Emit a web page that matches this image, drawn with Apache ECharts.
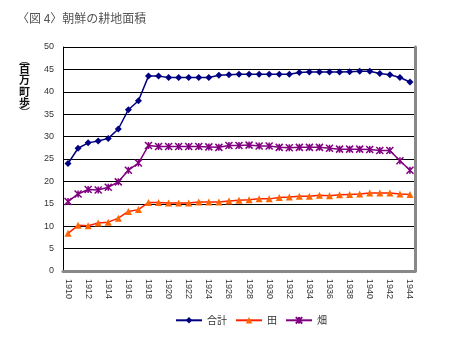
<!DOCTYPE html>
<html><head><meta charset="utf-8">
<script src="https://cdn.jsdelivr.net/npm/echarts@6/dist/echarts.min.js"></script>
<style>html,body{margin:0;padding:0;background:#fff}#c{width:460px;height:345px}</style>
</head><body><div id="c"></div>
<script>
const years = ['1910','1911','1912','1913','1914','1915','1916','1917','1918','1919','1920','1921','1922','1923','1924','1925','1926','1927','1928','1929','1930','1931','1932','1933','1934','1935','1936','1937','1938','1939','1940','1941','1942','1943','1944'];
const total = [24.0,27.4,28.6,29.0,29.6,31.7,36.0,38.0,43.5,43.5,43.2,43.2,43.2,43.2,43.2,43.7,43.8,43.9,43.9,43.9,43.9,43.9,43.9,44.3,44.4,44.4,44.4,44.4,44.5,44.6,44.6,44.1,43.8,43.2,42.2];
const paddy = [8.4,10.2,10.1,10.7,10.9,11.8,13.3,13.7,15.3,15.3,15.2,15.2,15.2,15.4,15.4,15.4,15.6,15.8,15.9,16.1,16.1,16.4,16.5,16.7,16.7,16.9,16.8,17.0,17.1,17.2,17.4,17.4,17.4,17.2,17.1];
const field = [15.5,17.2,18.2,18.1,18.7,19.9,22.5,24.1,28.0,27.8,27.8,27.8,27.8,27.8,27.7,27.6,28.0,28.0,28.1,27.9,27.9,27.6,27.5,27.6,27.6,27.6,27.4,27.2,27.2,27.2,27.1,26.9,26.9,24.6,22.5];
const seriesNames = ['合計','田','畑'];
const titleText = '〈図 4〉朝鮮の耕地面積';
const yName = '{p|︵}\n{c|百}\n{c|万}\n{c|町}\n{c|歩}\n{p|︶}';

const font = 'Arial, "Liberation Sans", "Noto Sans CJK JP", sans-serif';
const cjk = '"Noto Sans CJK JP", sans-serif';
const chart = echarts.init(document.getElementById('c'));
chart.setOption({
  animation: false,
  textStyle: {fontFamily: font},
  title: {text: titleText, left: 12, top: 7, textStyle: {fontSize: 12, fontWeight: 'normal', color: '#555', fontFamily: cjk}},
  grid: {left: 63, top: 47, right: 45, bottom: 74, containLabel: false, outerBoundsMode: 'none'},
  graphic: [{
    type: 'text', left: 19, top: 54,
    style: {
      text: yName, fill: '#111', align: 'center',
      rich: {
        p: {fontSize: 11, lineHeight: 7, fontFamily: cjk, fill: '#111'},
        c: {fontSize: 11, lineHeight: 11.5, fontFamily: cjk, fill: '#111', fontWeight: 'bold'}
      }
    }
  }],
  legend: {
    bottom: 14, left: 170, itemWidth: 26, itemHeight: 8, itemGap: 8,
    textStyle: {fontSize: 10, color: '#333', padding: [8, 0, 0, 0], fontFamily: cjk},
    data: seriesNames
  },
  xAxis: [{
    type: 'category', data: years, boundaryGap: true,
    axisLine: {lineStyle: {color: '#000', width: 1}},
    axisTick: {inside: true, length: 4, interval: 0, lineStyle: {color: '#000'}},
    axisLabel: {rotate: -90, interval: 1, fontSize: 9, color: '#333', margin: 8}
  }, {
    type: 'category', data: years, position: 'top',
    axisLine: {lineStyle: {color: '#888', width: 3}},
    axisTick: {show: false}, axisLabel: {show: false}
  }],
  yAxis: [{
    type: 'value', min: 0, max: 50, interval: 5,
    axisLine: {show: true, lineStyle: {color: '#000'}},
    axisTick: {show: false},
    axisLabel: {fontSize: 9, color: '#333', margin: 9},
    splitLine: {lineStyle: {color: '#000', width: 1}}
  }, {
    type: 'value', min: 0, max: 50, interval: 5, position: 'right',
    axisLine: {show: true, lineStyle: {color: '#888', width: 3}},
    axisTick: {show: false}, axisLabel: {show: false}, splitLine: {show: false}
  }],
  series: [{
    name: seriesNames[0], type: 'line', data: total, showAllSymbol: true,
    symbol: 'diamond', symbolSize: 7,
    lineStyle: {color: '#000080', width: 1.5},
    itemStyle: {color: '#000080'}
  }, {
    name: seriesNames[1], type: 'line', data: paddy, showAllSymbol: true,
    symbol: 'triangle', symbolSize: 7,
    lineStyle: {color: '#FF2200', width: 1.5},
    itemStyle: {color: '#FF6600'}
  }, {
    name: seriesNames[2], type: 'line', data: field, showAllSymbol: true,
    symbol: 'path://M0,0L10,10M10,0L0,10M5,0L5,10', symbolSize: 7,
    lineStyle: {color: '#800080', width: 1.5},
    itemStyle: {color: 'none', borderColor: '#800080', borderWidth: 1.5}
  }]
});
</script></body></html>
